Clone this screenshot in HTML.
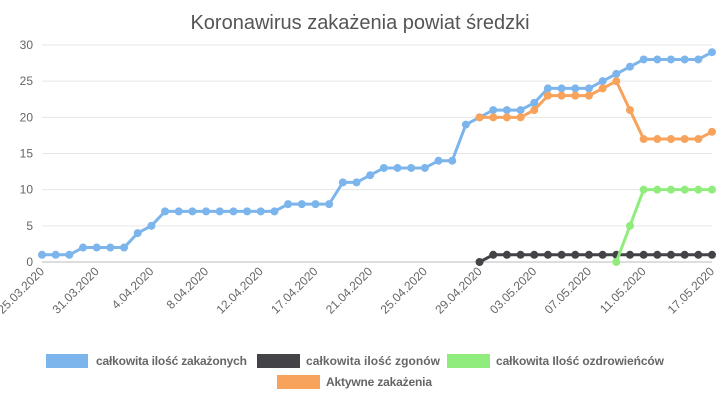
<!DOCTYPE html>
<html><head><meta charset="utf-8"><style>
html,body{margin:0;padding:0;background:#fff;}
svg{display:block;font-family:"Liberation Sans",sans-serif;}
</style></head><body>
<svg id="chart" width="719" height="400">
<text x="360" y="29" text-anchor="middle" font-size="20" fill="#555">Koronawirus zakażenia powiat średzki</text>
<g id="grid"></g><g id="xlabels"></g><g id="series"></g>
<g font-size="12" font-weight="bold" fill="#666">
<g><rect x="46" y="354" width="42" height="14" fill="#7cb5ec"/><text x="96" y="365" textLength="151">całkowita ilość zakażonych</text></g>
<g><rect x="257" y="354" width="43" height="14" fill="#434348"/><text x="306" y="365" textLength="134">całkowita ilość zgonów</text></g>
<g><rect x="447" y="354" width="43" height="14" fill="#90ed7d"/><text x="496" y="365" textLength="168">całkowita Ilość ozdrowieńców</text></g>
<g><rect x="277" y="375" width="43" height="14" fill="#f7a35c"/><text x="326" y="386" textLength="106">Aktywne zakażenia</text></g>
</g>
</svg>
<script>
const categories = ["25.03.2020","","","","31.03.2020","","","","4.04.2020","","","","8.04.2020","","","","12.04.2020","","","","17.04.2020","","","","21.04.2020","","","","25.04.2020","","","","29.04.2020","","","","03.05.2020","","","","07.05.2020","","","","11.05.2020","","","","","17.05.2020"];
const infected = [1,1,1,2,2,2,2,4,5,7,7,7,7,7,7,7,7,7,8,8,8,8,11,11,12,13,13,13,13,14,14,19,20,21,21,21,22,24,24,24,24,25,26,27,28,28,28,28,28,29];
const deaths = [null,null,null,null,null,null,null,null,null,null,null,null,null,null,null,null,null,null,null,null,null,null,null,null,null,null,null,null,null,null,null,null,0,1,1,1,1,1,1,1,1,1,1,1,1,1,1,1,1,1];
const recovered = [null,null,null,null,null,null,null,null,null,null,null,null,null,null,null,null,null,null,null,null,null,null,null,null,null,null,null,null,null,null,null,null,null,null,null,null,null,null,null,null,null,null,0,5,10,10,10,10,10,10];
const active = [null,null,null,null,null,null,null,null,null,null,null,null,null,null,null,null,null,null,null,null,null,null,null,null,null,null,null,null,null,null,null,null,20,20,20,20,21,23,23,23,23,24,25,21,17,17,17,17,17,18];
const yTicks = [0,5,10,15,20,25,30];
const NS="http://www.w3.org/2000/svg";
const x0=42,x1=712,y0=262,y1=45,yMax=30;
const xs=i=>x0+i*(x1-x0)/(categories.length-1);
const ys=v=>y0-v*(y0-y1)/yMax;
function mk(t,a,p){const e=document.createElementNS(NS,t);for(const k in a)e.setAttribute(k,a[k]);p.appendChild(e);return e;}
const grid=document.getElementById('grid');
yTicks.forEach(v=>{
  const l=mk('line',{x1:x0,x2:x1,y1:ys(v),y2:ys(v),stroke:v===0?'#bbb':'#e6e6e6','stroke-width':1},grid);
  
  
  const t=mk('text',{x:33,y:ys(v)+4,'text-anchor':'end','font-size':12,fill:'#666'},grid);
  t.textContent=v;
  
  
});
const xl=document.getElementById('xlabels');
categories.forEach((c,i)=>{
  if(!c)return;
  const t=mk('text',{x:xs(i)+3,y:272,'text-anchor':'end','font-size':12,fill:'#666',transform:`rotate(-45 ${xs(i)+3} 272)`},xl);
  t.textContent=c;
  
  
});
const sg=document.getElementById('series');
[[infected,'#7cb5ec','series-infected'],[deaths,'#434348','series-deaths'],[recovered,'#90ed7d','series-recovered'],[active,'#f7a35c','series-active']].forEach(([d,col,name])=>{
  const g=mk('g',{},sg);
  
  
  let pts=[];d.forEach((v,i)=>{if(v!==null)pts.push(xs(i)+','+ys(v));});
  const pl=mk('polyline',{points:pts.join(' '),fill:'none',stroke:col,'stroke-width':3,'stroke-linejoin':'round'},g);
  
  
  d.forEach((v,i)=>{if(v===null)return;
    const c=mk('circle',{cx:xs(i),cy:ys(v),r:4,fill:col},g);
    
    
  });
});
</script>
</body></html>
